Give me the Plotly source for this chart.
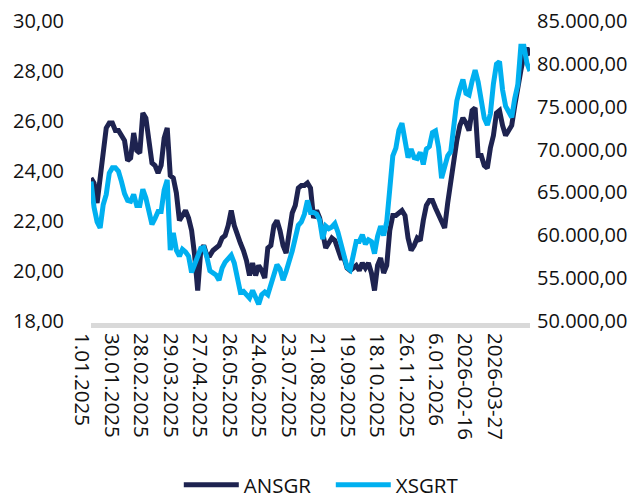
import plotly.graph_objects as go

tick_labels = ["1.01.2025", "30.01.2025", "28.02.2025", "29.03.2025", "27.04.2025",
               "26.05.2025", "24.06.2025", "23.07.2025", "21.08.2025", "19.09.2025",
               "18.10.2025", "26.11.2025", "6.01.2026", "2026-02-16", "2026-03-27"]
tick_step = 29      # trading-day rows between labelled ticks
sample_step = 3     # rows between the sampled values below

ansgr = [23.8, 23.6, 22.8, 23.7, 24.9, 25.8, 26.0, 26.0, 25.7, 25.7,
         25.5, 25.3, 24.5, 24.6, 25.6, 24.9, 24.8, 26.4, 26.2, 25.4,
         24.4, 24.3, 24.0, 24.3, 25.4, 25.8, 23.9, 23.8, 23.2, 22.1,
         22.3, 22.5, 22.2, 21.7, 20.7, 19.3, 20.9, 21.1, 20.7, 20.7,
         20.9, 21.0, 21.1, 21.4, 21.5, 21.9, 22.5, 21.9, 21.5, 21.2,
         20.9, 20.5, 19.9, 20.4, 19.9, 20.3, 20.1, 19.8, 21.0, 21.1,
         21.9, 22.1, 21.7, 21.1, 20.8, 21.5, 22.4, 22.7, 23.4, 23.5,
         23.5, 23.6, 23.4, 22.2, 22.5, 22.2, 21.5, 21.0, 21.2, 21.4,
         21.3, 20.9, 20.6, 20.6, 20.2, 20.1, 20.2, 20.3, 20.1, 20.4,
         20.2, 20.4, 20.0, 19.3, 20.3, 20.6, 20.0, 20.3, 21.7, 22.3,
         22.3, 22.4, 22.5, 22.3, 21.4, 20.9, 21.1, 21.4, 21.3, 22.1,
         22.7, 22.9, 22.9, 22.6, 22.3, 22.0, 21.8, 22.8, 23.7, 24.6,
         25.3, 25.9, 26.2, 26.0, 25.7, 26.5, 26.6, 24.7, 24.7, 24.3,
         24.2, 25.0, 25.5, 26.4, 26.5, 25.9, 25.5, 25.7, 25.9, 26.7,
         27.5, 28.1, 28.7, 29.0, 28.7]

xsgrt = [66500, 63500, 61800, 61100, 63800, 65000, 67500, 68100, 68100, 67700,
         66500, 65100, 64300, 64200, 65000, 63700, 63700, 65600, 64600, 62800,
         61500, 62200, 63000, 63000, 65500, 66700, 58500, 60500, 58500, 57800,
         58600, 58300, 57800, 55900, 56800, 57700, 58700, 58800, 57700, 56100,
         55900, 55600, 55000, 56400, 57100, 57600, 57900, 57000, 55500, 53600,
         53700, 53300, 52900, 53800, 52800, 52200, 53300, 53600, 53300, 54400,
         55600, 56800, 56300, 55000, 56000, 57100, 58400, 59900, 61400, 61800,
         62700, 64300, 62900, 62900, 62700, 62000, 59800, 61300, 61000, 61200,
         61600, 60600, 59200, 58000, 56500, 56200, 57800, 59500, 59500, 60300,
         59200, 59700, 59500, 58100, 60100, 61300, 60200, 61800, 65600, 69500,
         70400, 72500, 73300, 71600, 69300, 70300, 69300, 69200, 69900, 68500,
         70300, 70600, 72200, 72400, 70500, 66900, 68000, 69500, 70000, 72600,
         75900, 77300, 78400, 76800, 76600, 78200, 79500, 78100, 76000, 73900,
         73100, 74400, 77900, 80200, 80500, 77200, 75300, 74500, 74000, 76200,
         77800, 82300, 82300, 80300, 79400]

x_rows = [i * sample_step for i in range(len(ansgr))]
tick_rows = [i * tick_step for i in range(len(tick_labels))]

DARK = "#1e2350"
LIGHT = "#00b0f0"
FONT = "Open Sans"
FS = 20.5

fig = go.Figure()
fig.add_trace(go.Scatter(x=x_rows, y=ansgr, name="ANSGR", mode="lines",
                         line=dict(color=DARK, width=5), yaxis="y"))
fig.add_trace(go.Scatter(x=x_rows, y=xsgrt, name="XSGRT", mode="lines",
                         line=dict(color=LIGHT, width=5), yaxis="y2"))

fig.update_layout(
    width=639, height=502,
    margin=dict(l=83, r=117, t=15, b=187, autoexpand=False),
    paper_bgcolor="white", plot_bgcolor="white",
    separators=",.",
    font=dict(family=FONT, size=FS, color="#111111"),
    showlegend=True,
    legend=dict(orientation="h", x=0.200, xanchor="left", y=-0.54, yanchor="middle",
                font=dict(size=FS), itemwidth=55, entrywidth=82, traceorder="normal",
                bgcolor="rgba(0,0,0,0)"),
    xaxis=dict(range=[0, x_rows[-1]], tickmode="array", tickvals=tick_rows,
               ticktext=tick_labels, tickangle=90, showgrid=False, zeroline=False,
               showline=True, linecolor="#d9d9d9", linewidth=5, automargin=False,
               ticks="outside", ticklen=1, tickcolor="rgba(0,0,0,0)",
               ticklabelshift=-9, ticklabeloverflow="allow"),
    yaxis=dict(range=[18, 30], tickmode="array", tickvals=[18, 20, 22, 24, 26, 28, 30],
               tickformat=",.2f", showgrid=False, zeroline=False, showline=False,
               automargin=False, ticklabelshift=-2, ticklabeloverflow="allow",
               tickfont=dict(size=20),
               ticks="outside", ticklen=22, tickcolor="rgba(0,0,0,0)"),
    yaxis2=dict(range=[50000, 85000], overlaying="y", side="right", tickmode="array",
                tickvals=[50000, 55000, 60000, 65000, 70000, 75000, 80000, 85000],
                tickformat=",.2f", showgrid=False, zeroline=False, showline=False,
                automargin=False, ticklabelshift=-2, ticklabeloverflow="allow",
                tickfont=dict(size=20),
                ticks="outside", ticklen=2, tickcolor="rgba(0,0,0,0)"),
)

fig.write_html("out.html")
